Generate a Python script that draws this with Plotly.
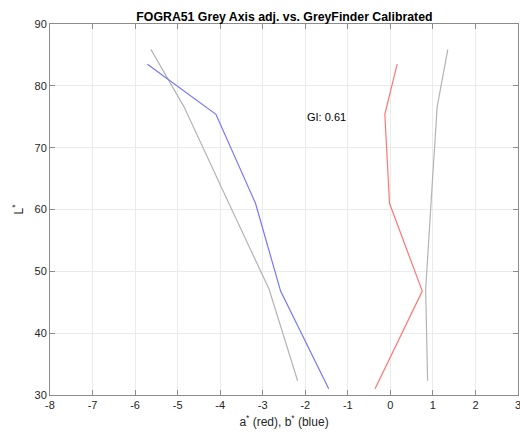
import plotly.graph_objects as go

# Lightness levels of the grey ramp
L_target = [85.9, 76.6, 61.5, 47.1, 32.3]
L_measured = [83.5, 75.4, 61.0, 46.8, 31.0]

# FOGRA51 adjusted grey axis (reference)
a_target = [1.35, 1.10, 0.96, 0.83, 0.875]
b_target = [-5.63, -4.85, -3.83, -2.85, -2.18]

# GreyFinder calibrated result
a_measured = [0.16, -0.13, -0.02, 0.75, -0.36]
b_measured = [-5.71, -4.10, -3.17, -2.58, -1.45]

gray_index = "GI: 0.61"
x_ticks = list(range(-8, 4))
x_tick_text = [str(v) for v in x_ticks]  # plain hyphen-minus labels
y_ticks = list(range(30, 91, 10))

font_family = "Liberation Sans, Arial, Helvetica, sans-serif"
text_color = "#262626"

fig = go.Figure()
fig.add_trace(go.Scatter(x=b_target, y=L_target, mode="lines",
                         line=dict(color="#b4b4b4", width=1.2)))
fig.add_trace(go.Scatter(x=a_target, y=L_target, mode="lines",
                         line=dict(color="#b4b4b4", width=1.2)))
fig.add_trace(go.Scatter(x=b_measured, y=L_measured, mode="lines",
                         line=dict(color="#7676ff", width=1.2)))
fig.add_trace(go.Scatter(x=a_measured, y=L_measured, mode="lines",
                         line=dict(color="#ff7676", width=1.2)))

fig.add_annotation(x=-2.0, y=75, text=gray_index, showarrow=False,
                   xanchor="left", yanchor="middle",
                   font=dict(size=11, color="#000000", family=font_family))

axis_common = dict(
    showline=True, linecolor="#8c8c8c", linewidth=1, mirror="ticks",
    ticks="inside", ticklen=5, tickwidth=1, tickcolor="#8c8c8c",
    showgrid=True, gridcolor="#ebebeb", gridwidth=1, zeroline=False,
    tickfont=dict(size=11, color=text_color, family=font_family),
    ticklabeloverflow="allow", automargin=False,
)

fig.update_layout(
    width=520, height=432,
    margin=dict(l=50, r=1.5, t=24, b=37),
    paper_bgcolor="white", plot_bgcolor="white",
    showlegend=False,
    title=dict(text="<b>FOGRA51 Grey Axis adj. vs. GreyFinder Calibrated</b>",
               x=0.547, xanchor="center", y=0.962, yanchor="middle",
               font=dict(size=12.3, color="#000000", family=font_family)),
    xaxis=dict(range=[-8, 3], tickvals=x_ticks, ticktext=x_tick_text,
               **axis_common,
               title=dict(text="a<sup>*</sup> (red), b<sup>*</sup> (blue)",
                          standoff=7,
                          font=dict(size=12, color=text_color, family=font_family))),
    yaxis=dict(range=[30, 90], tickvals=y_ticks, **axis_common,
               title=dict(text="L<sup>*</sup>", standoff=8,
                          font=dict(size=12, color=text_color, family=font_family))),
)

fig.write_html("out.html")
